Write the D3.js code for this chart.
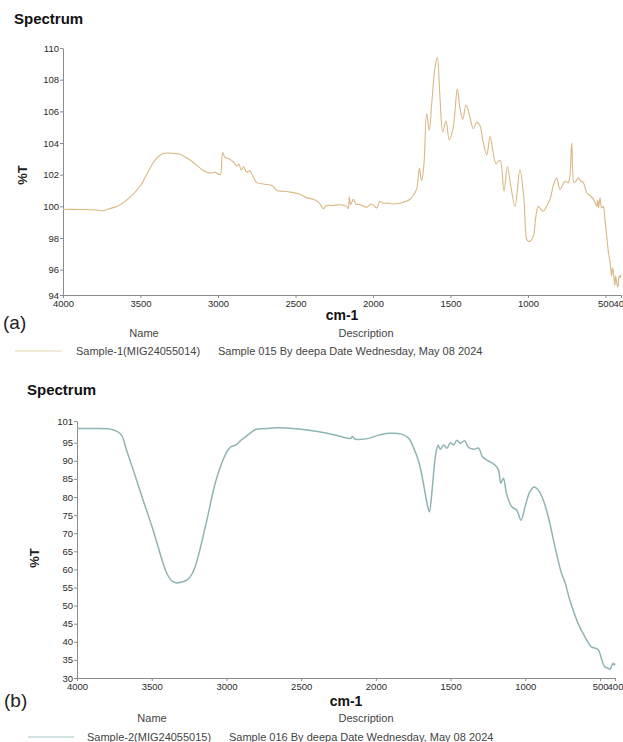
<!DOCTYPE html>
<html>
<head>
<meta charset="utf-8">
<script src="https://cdn.jsdelivr.net/npm/d3@7"></script>
<style>
  html, body { margin: 0; padding: 0; background: #fff; }
  svg { display: block; }
  text { font-family: "Liberation Sans", Arial, sans-serif; }
</style>
</head>
<body>
<svg id="fig" width="623" height="742"></svg>
<script>
// ---- Sample-1 spectrum (wavenumber cm-1, %T) ----
const wavenumbersA = [4000,3900,3800,3750,3700,3650,3600,3550,3500,3450,3400,3350,3300,3250,3200,3150,3100,3050,3020,3000,2985,2970,2955,2930,2900,2880,2865,2850,2835,2815,2795,2775,2750,2700,2650,2620,2580,2535,2480,2428,2385,2350,2330,2320,2300,2260,2213,2170,2160,2153,2145,2137,2127,2110,2084,2060,2041,2020,2008,1990,1976,1955,1935,1912,1870,1826,1790,1761,1740,1718,1701,1686,1671,1654,1637,1621,1600,1585,1568,1550,1529,1508,1482,1456,1439,1421,1400,1374,1353,1331,1310,1292,1266,1245,1228,1206,1180,1155,1133,1111,1084,1052,1026,1008,998,987,966,950,934,915,901,880,858,837,815,794,775,761,740,718,703,690,675,660,643,621,600,578,565,557,550,545,535,525,514,505,492,480,471,460,455,449,440,435,428,420,412,406,400];
const transmittanceA = [99.82,99.8,99.78,99.72,99.85,100.0,100.3,100.75,101.3,102.2,103.0,103.35,103.35,103.3,103.05,102.7,102.3,102.1,102.15,102.05,102.0,103.4,103.1,103.0,102.8,102.55,102.65,102.3,102.5,102.15,102.25,101.9,101.5,101.4,101.3,101.0,100.95,100.9,100.8,100.55,100.45,100.25,99.95,99.85,100.05,100.05,100.1,100.0,99.85,100.6,100.1,100.25,100.45,100.15,100.1,100.0,99.95,100.1,100.15,100.0,99.9,100.3,100.2,100.2,100.15,100.2,100.3,100.45,100.7,101.1,102.4,101.6,102.7,105.86,104.8,106.5,108.8,109.4,106.9,104.7,105.4,104.2,105.0,107.4,106.2,105.5,106.4,105.6,104.9,105.3,105.1,104.2,103.25,104.4,103.6,102.7,102.9,100.96,102.5,101.3,100.0,102.3,100.44,97.9,97.8,97.8,98.1,99.3,100.0,99.8,99.7,100.0,100.44,101.3,101.8,101.06,101.4,101.6,101.5,104.0,101.5,101.6,101.8,101.6,101.5,100.86,100.7,100.44,100.2,100.0,100.4,99.9,100.54,99.9,100.0,99.3,98.1,97.0,96.5,95.6,96.1,95.85,95.0,95.6,95.2,94.9,95.6,95.5,95.7];

// ---- Sample-2 spectrum (wavenumber cm-1, %T) ----
const wavenumbersB = [4000,3900,3800,3760,3736,3702,3669,3624,3558,3491,3424,3400,3370,3340,3300,3260,3230,3202,3136,3069,3002,2969,2936,2902,2858,2802,2736,2669,2600,2513,2380,2247,2169,2158,2140,2113,2047,1980,1913,1824,1780,1747,1713,1680,1658,1642,1624,1602,1584,1569,1547,1524,1502,1480,1458,1436,1407,1380,1347,1313,1287,1258,1236,1202,1180,1164,1147,1124,1091,1058,1029,1002,969,940,913,880,847,802,758,736,702,647,602,558,513,491,469,447,435,424,413,405,400];
const transmittanceB = [98.9,98.9,98.85,98.6,98.2,97.1,93.0,87.5,79.2,70.9,61.7,59.0,57.0,56.3,56.5,57.2,58.8,61.7,72.7,84.7,92.1,93.9,94.4,95.7,97.1,98.7,98.9,99.15,99.1,98.8,98.0,96.85,96.2,96.7,96.0,95.9,96.2,97.1,97.6,97.3,96.2,93.5,89.75,83.3,78.3,75.9,81.9,91.1,94.4,93.2,94.4,93.5,95.0,94.4,95.7,94.8,95.55,93.7,93.2,93.5,91.1,90.2,89.75,88.8,87.5,83.8,85.2,80.6,77.3,76.4,73.6,77.3,81.5,82.8,81.9,79.2,74.6,66.3,58.9,56.6,51.5,45.1,41.4,38.6,37.9,35.4,33.1,32.7,32.4,33.1,34.1,33.6,34.0];

// ---- axis limits and ticks ----
const xLimits = [4000, 400];
const xTicks = [4000, 3500, 3000, 2500, 2000, 1500, 1000, 500, 400];
const yLimitsA = [94.4, 110];
const yTicksA = [94.4, 96, 98, 100, 102, 104, 106, 108, 110];
const yLimitsB = [30, 101];
const yTicksB = [30, 35, 40, 45, 50, 55, 60, 65, 70, 75, 80, 85, 90, 95, 101];

// ---- captions ----
const panelTitle = "Spectrum";
const xTitle = "cm-1";
const yTitle = "%T";
const legendHeads = ["Name", "Description"];
const panelTags = ["(a)", "(b)"];
const sampleNames = ["Sample-1(MIG24055014)", "Sample-2(MIG24055015)"];
const sampleNotes = ["Sample 015 By deepa Date Wednesday, May 08 2024",
                     "Sample 016 By deepa Date Wednesday, May 08 2024"];

const svg = d3.select("#fig");
svg.append("rect").attr("width", 623).attr("height", 742).attr("fill", "#fff");

function drawPanel(cfg) {
  const g = svg.append("g");
  const x = d3.scaleLinear().domain(xLimits).range([cfg.left, cfg.right]);
  const y = d3.scaleLinear().domain(cfg.yLimits).range([cfg.bottom, cfg.top]);

  // title
  g.append("text").attr("x", cfg.titleX).attr("y", cfg.titleY)
    .attr("font-size", 15).attr("font-weight", "bold").attr("fill", "#111")
    .text(panelTitle);

  // y axis
  const yAxis = g.append("g").attr("transform", `translate(${cfg.left},0)`)
    .call(d3.axisLeft(y).tickValues(cfg.yTicks).tickFormat(d3.format(".0f"))
      .tickSize(3).tickSizeOuter(0).tickPadding(1));
  // x axis
  const xAxis = g.append("g").attr("transform", `translate(0,${cfg.bottom})`)
    .call(d3.axisBottom(x).tickValues(xTicks).tickFormat(d3.format("d"))
      .tickSize(3).tickSizeOuter(0).tickPadding(2));
  [yAxis, xAxis].forEach(a => {
    a.select(".domain").attr("stroke", "#8c8c8c");
    a.selectAll(".tick line").attr("stroke", "#8c8c8c");
    a.selectAll(".tick text").attr("font-size", 9.5).attr("fill", "#2a2a2a")
      .attr("font-family", "'Liberation Sans', Arial, sans-serif");
  });

  // axis titles
  g.append("text")
    .attr("transform", `translate(${cfg.yTitleX},${cfg.yTitleY}) rotate(-90)`)
    .attr("text-anchor", "middle").attr("dominant-baseline", "middle")
    .attr("font-size", 13).attr("font-weight", "bold").attr("fill", "#222")
    .text(yTitle);
  g.append("text").attr("x", (cfg.left + cfg.right) / 2).attr("y", cfg.xTitleY)
    .attr("text-anchor", "middle").attr("font-size", 14).attr("font-weight", "bold")
    .attr("fill", "#111").text(xTitle);

  // spectrum trace
  const pts = cfg.wn.map((w, i) => [w, cfg.t[i]]);
  g.append("path").datum(pts)
    .attr("fill", "none").attr("stroke", cfg.color).attr("stroke-width", cfg.width)
    .attr("stroke-linejoin", "round")
    .attr("d", d3.line().x(d => x(d[0])).y(d => y(d[1])).curve(d3.curveCatmullRom.alpha(0.5)));

  // panel tag and legend table
  g.append("text").attr("x", cfg.tagX).attr("y", cfg.tagY)
    .attr("font-family", "'Open Sans', 'Noto Sans', sans-serif")
    .attr("font-size", 19).attr("fill", "#222").text(cfg.tag);
  g.append("text").attr("x", cfg.nameX).attr("y", cfg.headY).attr("text-anchor", "middle")
    .attr("font-size", 11).attr("fill", "#444").text(legendHeads[0]);
  g.append("text").attr("x", cfg.descX).attr("y", cfg.headY).attr("text-anchor", "middle")
    .attr("font-size", 11).attr("fill", "#444").text(legendHeads[1]);
  g.append("line").attr("x1", cfg.keyX1).attr("x2", cfg.keyX2)
    .attr("y1", cfg.keyY).attr("y2", cfg.keyY)
    .attr("stroke", cfg.keyColor).attr("stroke-width", 1.5);
  g.append("text").attr("x", cfg.sampleX).attr("y", cfg.keyY + 4)
    .attr("font-size", 11).attr("fill", "#444").text(cfg.sample);
  g.append("text").attr("x", cfg.noteX).attr("y", cfg.keyY + 4)
    .attr("font-size", 11).attr("fill", "#444").text(cfg.note);
}

drawPanel({
  left: 63, right: 621, top: 48, bottom: 295,
  yLimits: yLimitsA, yTicks: yTicksA,
  titleX: 14, titleY: 24, yTitleX: 24, yTitleY: 175, xTitleY: 320,
  wn: wavenumbersA, t: transmittanceA, color: "#dbb784", width: 1.1,
  tag: panelTags[0], tagX: 3, tagY: 329,
  nameX: 144, descX: 366, headY: 337,
  keyX1: 15, keyX2: 62, keyY: 351, keyColor: "#efe3c9",
  sampleX: 76, noteX: 218, sample: sampleNames[0], note: sampleNotes[0]
});

drawPanel({
  left: 77, right: 615, top: 421, bottom: 678,
  yLimits: yLimitsB, yTicks: yTicksB,
  titleX: 27, titleY: 395, yTitleX: 36, yTitleY: 558, xTitleY: 706,
  wn: wavenumbersB, t: transmittanceB, color: "#8fb4b4", width: 1.5,
  tag: panelTags[1], tagX: 4, tagY: 707,
  nameX: 152, descX: 366, headY: 722,
  keyX1: 28, keyX2: 74, keyY: 737, keyColor: "#c3d9d9",
  sampleX: 87, noteX: 229, sample: sampleNames[1], note: sampleNotes[1]
});
</script>
</body>
</html>
